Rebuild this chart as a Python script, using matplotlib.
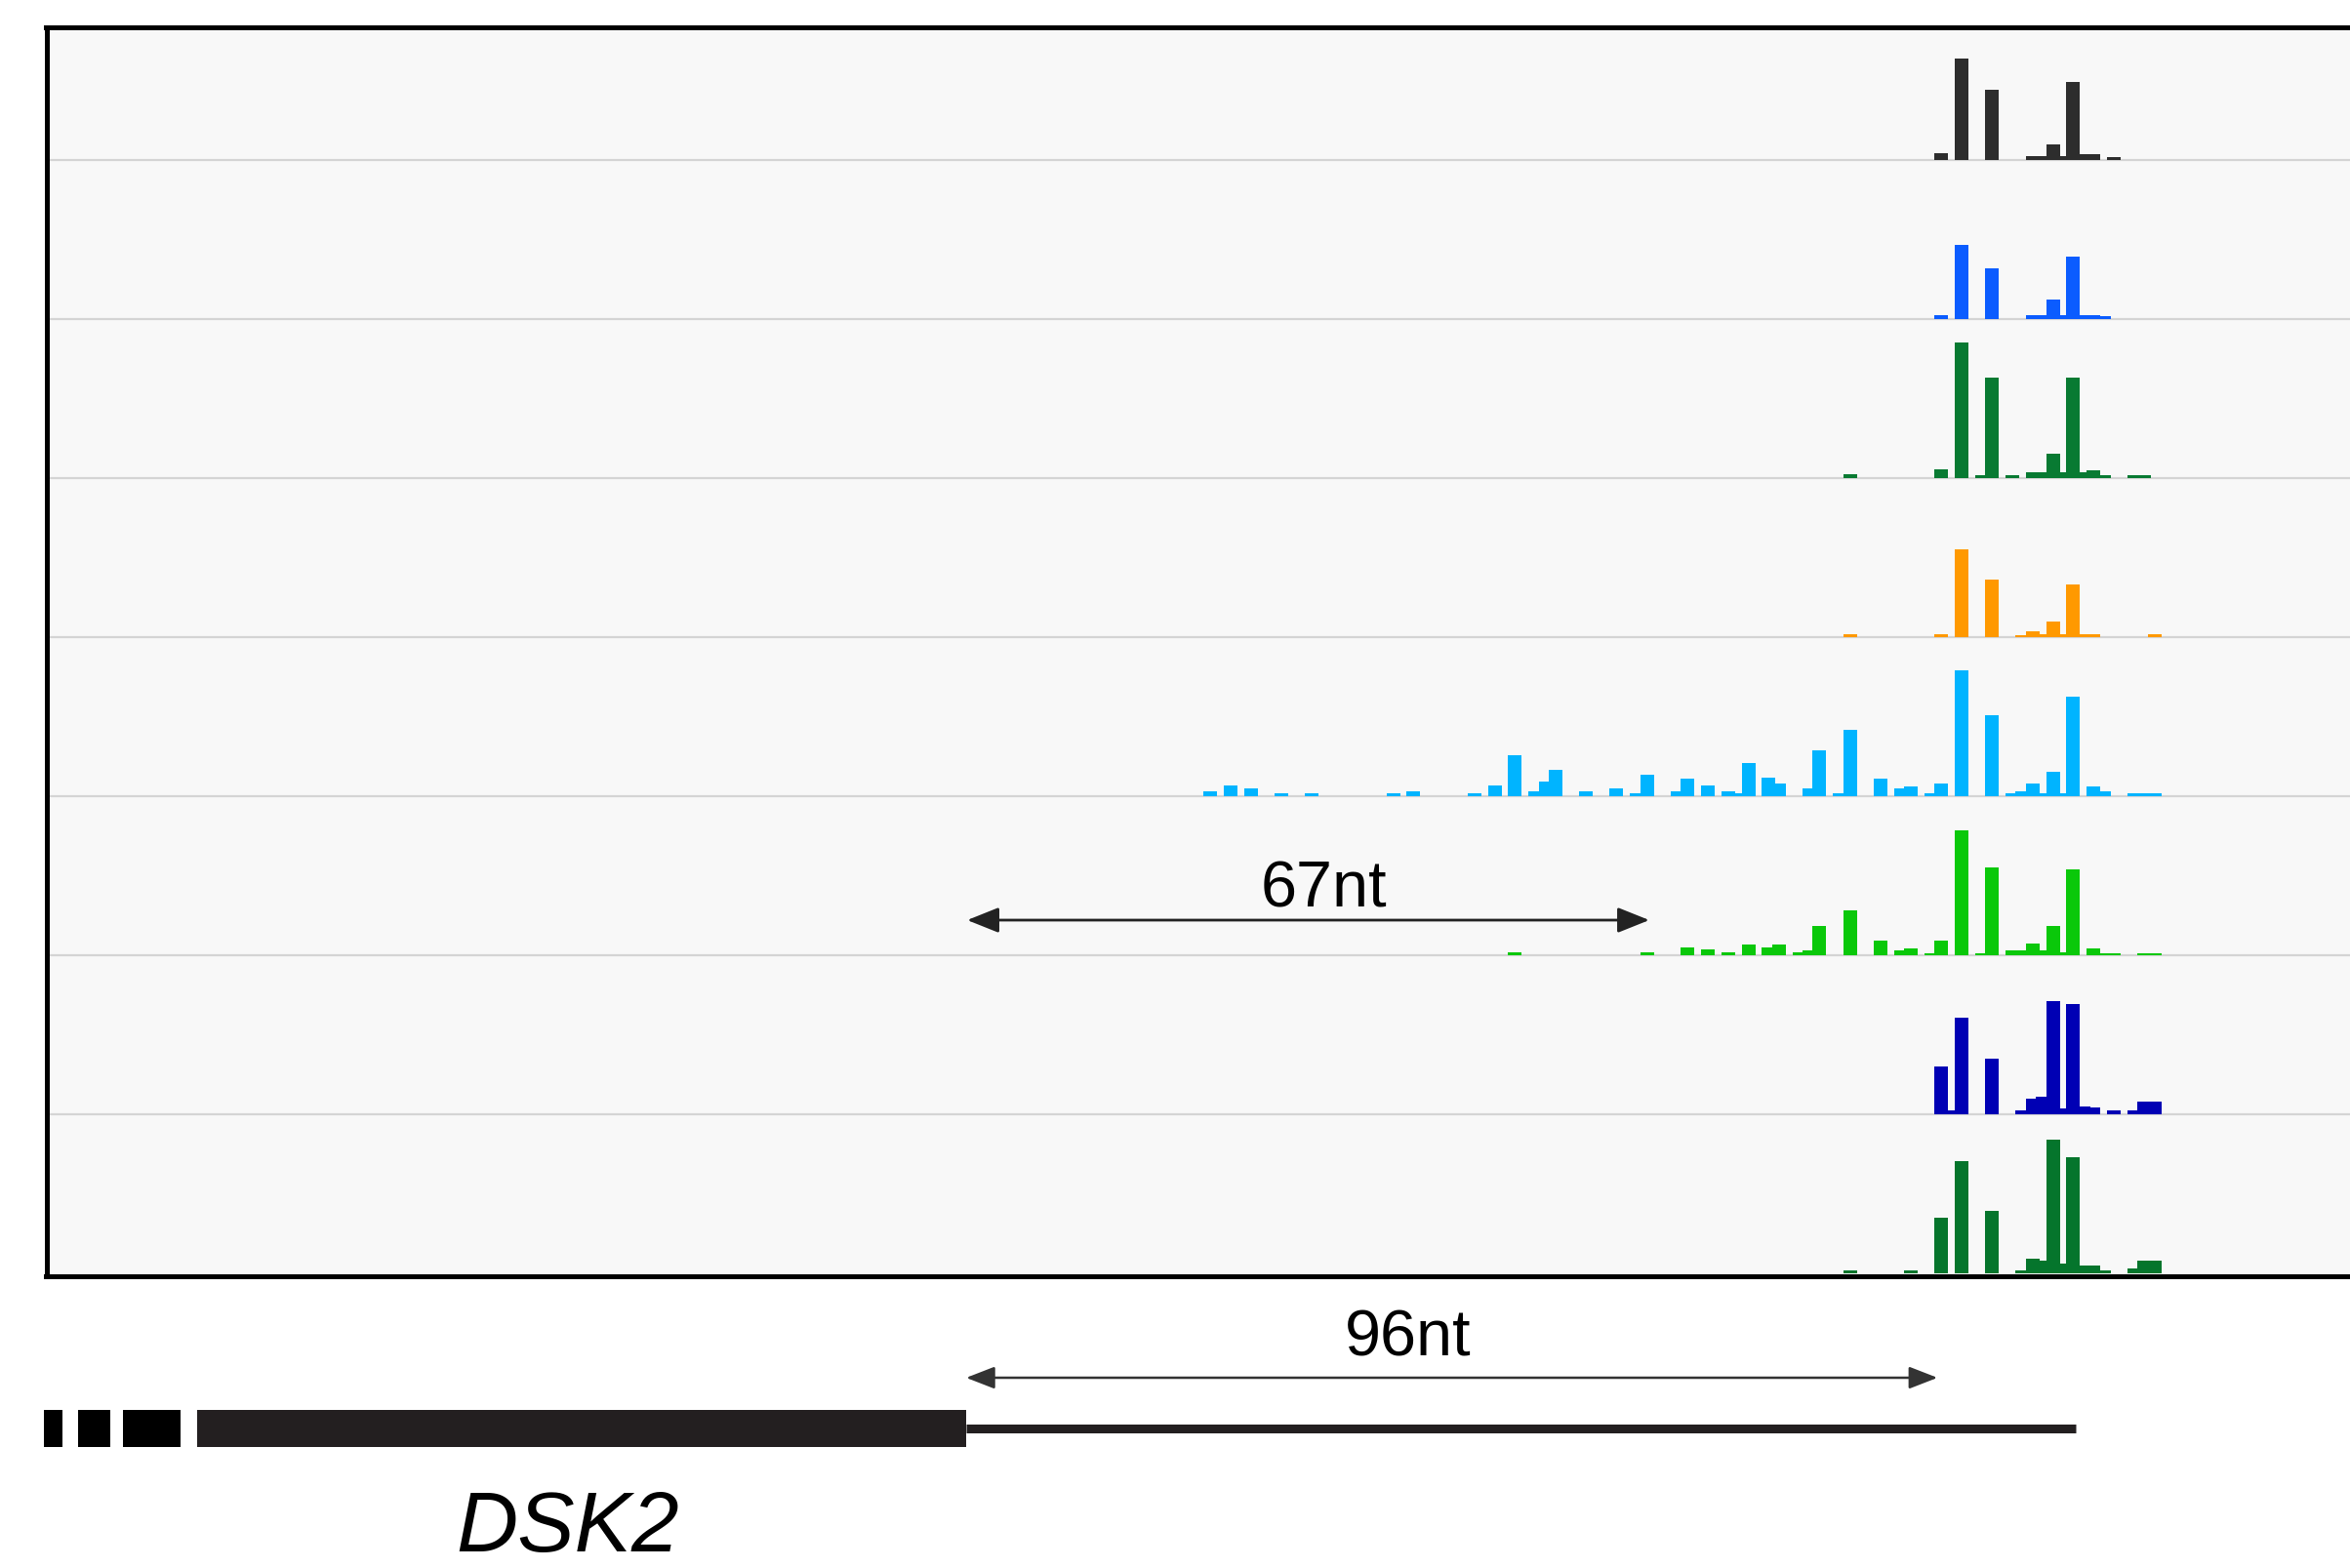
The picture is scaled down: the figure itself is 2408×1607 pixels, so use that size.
import matplotlib
matplotlib.use("Agg")
import matplotlib.pyplot as plt
from matplotlib.patches import FancyArrowPatch

# ---------------- data (positions in nt relative to the main peak) ----------------
track_colors = ["#2d2d2d", "#0b5cff", "#087a32", "#ff9900",
                "#00b4ff", "#0ac80a", "#0000b4", "#05752c"]

t1_pos = [-2, 0, 3, 7, 8, 9, 10, 11, 12, 13, 15]
t1_val = [7, 104, 72, 4, 4, 16, 4, 80, 6, 6, 3]

t2_pos = [-2, 0, 3, 7, 8, 9, 10, 11, 12, 13, 14]
t2_val = [4, 76, 52, 4, 4, 20, 4, 64, 4, 4, 3]

t3_pos = [-11, -2, 0, 2, 3, 5, 7, 8, 9, 10, 11, 12, 13, 14, 17, 18]
t3_val = [4, 9, 139, 3, 103, 3, 6, 6, 25, 6, 103, 6, 8, 3, 3, 3]

t4_pos = [-11, -2, 0, 3, 6, 7, 8, 9, 10, 11, 12, 13, 19]
t4_val = [3, 3, 90, 59, 2, 6, 3, 16, 3, 54, 3, 3, 3]

t5_pos = [-74, -72, -70, -67, -64, -56, -54, -48, -46, -44, -42, -41, -40,
          -37, -34, -32, -31, -28, -27, -25, -23, -22, -21, -19, -18, -15,
          -14, -12, -11, -8, -6, -5, -3, -2, 0, 3, 5, 6, 7, 8, 9, 10, 11,
          13, 14, 17, 18, 19]
t5_val = [5, 11, 8, 3, 3, 3, 5, 3, 11, 42, 5, 15, 27,
          5, 8, 3, 22, 5, 18, 11, 5, 3, 34, 19, 13, 8,
          47, 3, 68, 18, 8, 10, 3, 13, 129, 83, 3, 5, 13, 3, 25, 3, 102,
          10, 5, 3, 3, 3]

t6_pos = [-44, -31, -27, -25, -23, -21, -19, -18, -16, -15, -14, -11, -8, -6,
          -5, -3, -2, 0, 2, 3, 5, 6, 7, 8, 9, 10, 11, 13, 14, 15, 18, 19]
t6_val = [3, 3, 8, 6, 3, 11, 8, 11, 3, 5, 30, 46, 15, 5,
          7, 2, 15, 128, 2, 90, 5, 5, 12, 5, 30, 3, 88, 7, 2, 2, 2, 2]

t7_pos = [-2, -1, 0, 3, 6, 7, 8, 9, 10, 11, 12, 13, 15, 17, 18, 19]
t7_val = [49, 4, 99, 57, 4, 16, 18, 116, 6, 113, 8, 7, 4, 4, 13, 13]

t8_pos = [-11, -5, -2, 0, 3, 6, 7, 8, 9, 10, 11, 12, 13, 14, 17, 18, 19]
t8_val = [3, 3, 57, 115, 64, 3, 15, 13, 137, 10, 119, 8, 8, 3, 5, 13, 13]

tracks = [(t1_pos, t1_val), (t2_pos, t2_val), (t3_pos, t3_val), (t4_pos, t4_val),
          (t5_pos, t5_val), (t6_pos, t6_val), (t7_pos, t7_val), (t8_pos, t8_val)]

# gene model (nt, same coordinate system)
exon_starts = [-188.3, -184.9, -180.5, -173.2]
exon_ends = [-186.4, -181.7, -174.8, -97.4]
exon_colors = ["#000000", "#000000", "#000000", "#231f20"]
utr_start, utr_end = -97.4, 11.9

arrow67 = (-97.3, -30.1)
arrow96 = (-97.4, -1.7)
label67 = "67nt"
label96 = "96nt"
gene_name = "DSK2"

# ---------------- layout ----------------
W, H = 2408, 1607
PX = 10.4          # pixels per nt
X0 = 2003          # pixel of position 0
TRACK_H = 163

plt.rcParams['font.family'] = ['Liberation Sans', 'DejaVu Sans']
fig = plt.figure(figsize=(W / 100, H / 100), dpi=100)
fig.patch.set_facecolor("white")

left_px, top_px, bot_px = 47.5, 27.5, 1308
ax = fig.add_axes([left_px / W, (H - bot_px) / H, (W - left_px) / W, (bot_px - top_px) / H])
ax.set_facecolor("#f8f8f8")
ax.set_xlim((left_px - X0) / PX, (W - X0) / PX)
ax.set_ylim(-(bot_px - 1305), 1305 - top_px)
ax.set_xticks([])
ax.set_yticks([])
for s in ["top", "left", "bottom"]:
    ax.spines[s].set_linewidth(3.6)
    ax.spines[s].set_color("black")
ax.spines["right"].set_visible(False)

for i, ((pos, val), col) in enumerate(zip(tracks, track_colors)):
    base = (7 - i) * TRACK_H
    if i < 7:
        ax.axhline(base, color="#d4d4d4", lw=1.6, zorder=1)
    ax.bar(pos, val, width=1.35, align="edge", bottom=base, color=col,
           linewidth=0, zorder=2)

# 67nt annotation inside the panel
y67 = 1305 - 943
ax.add_patch(FancyArrowPatch((arrow67[0], y67), (arrow67[1], y67),
                             arrowstyle="<|-|>,head_length=1.0,head_width=0.4",
                             mutation_scale=20, lw=2.0, color="#222222",
                             shrinkA=0, shrinkB=0, zorder=3))
ax.text((arrow67[0] + arrow67[1]) / 2 + 1.5, 1305 - 930, label67, ha="center",
        va="baseline", fontsize=48, color="black")

# ---------------- gene model axes ----------------
gx = fig.add_axes([0, 0, 1, (H - 1312) / H])
gx.set_xlim((0 - X0) / PX, (W - X0) / PX)
gx.set_ylim(0, H - 1312)
gx.axis("off")

gy0, gh = H - 1483, 38
for s0, s1, c in zip(exon_starts, exon_ends, exon_colors):
    gx.broken_barh([(s0, s1 - s0)], (gy0, gh), facecolors=c, linewidth=0)
gx.plot([utr_start, utr_end], [gy0 + gh / 2, gy0 + gh / 2], color="#231f20",
        lw=6.5, solid_capstyle="butt")

y96 = H - 1412
gx.add_patch(FancyArrowPatch((arrow96[0], y96), (arrow96[1], y96),
                             arrowstyle="<|-|>,head_length=0.9,head_width=0.35",
                             mutation_scale=20, lw=1.8, color="#333333",
                             shrinkA=0, shrinkB=0))
gx.text(-53.9, H - 1390, label96, ha="center", va="baseline", fontsize=48,
        color="black")
gx.text(-136.7, H - 1590, gene_name, ha="center", va="baseline", fontsize=63,
        style="italic", color="black")

fig.savefig("out.png", dpi=100)
